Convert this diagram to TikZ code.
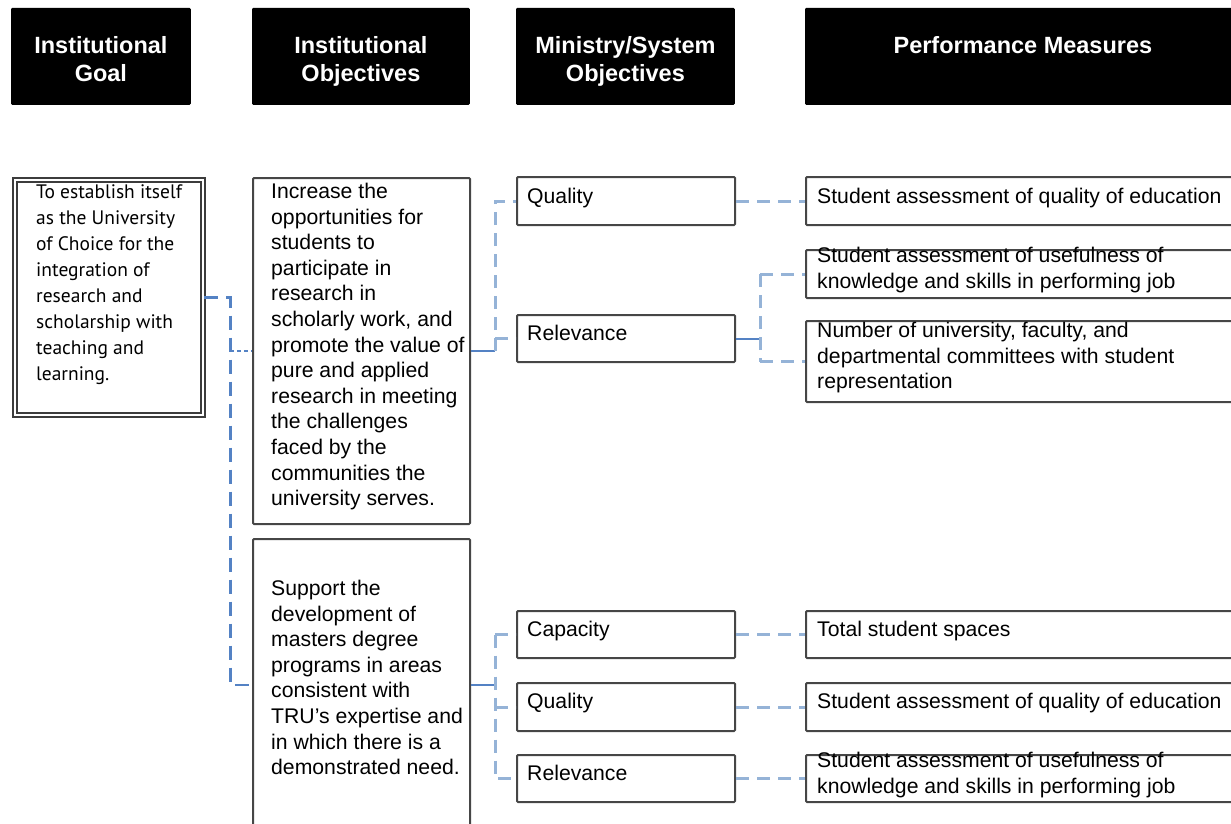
\documentclass[tikz,border=0pt]{standalone}
\usepackage{fontspec}
\setmainfont{Liberation Sans}
\newfontfamily\gillfont{PT Sans}
\usetikzlibrary{calc}
\definecolor{lblue}{RGB}{149,179,215}
\definecolor{dblue}{RGB}{84,130,196}
\definecolor{bord}{RGB}{70,70,70}
\tikzset{
  hdr/.style={fill=black, draw=black, rounded corners=1pt, line width=0.8pt, anchor=north west, inner sep=0},
  hdrtxt/.style={text=white, font=\fontsize{23.5}{28}\selectfont\bfseries, align=center, inner sep=0, anchor=north},
  box/.style={draw=bord, line width=2pt, rounded corners=1pt, anchor=north west, inner sep=0},
  txt/.style={font=\fontsize{21.2}{25.6}\selectfont, align=left, inner sep=0, anchor=north west},
  gtxt/.style={font=\gillfont\fontsize{19.5}{26}\selectfont, align=left, inner sep=0, anchor=north west},
  conn/.style={lblue, line width=3pt, dash pattern=on 13pt off 8pt},
  gconn/.style={dblue, line width=2.8pt, dash pattern=on 14pt off 8pt},
  stub/.style={dblue, line width=2pt},
}
\begin{document}
\begin{tikzpicture}[x=1pt,y=-1pt]
\useasboundingbox (0,0) rectangle (1231,824);
% headers
\node[hdr, minimum width=179pt, minimum height=96pt] (h1) at (11,8) {};
\node[hdr, minimum width=217pt, minimum height=96pt] (h2) at (252,8) {};
\node[hdr, minimum width=218pt, minimum height=96pt] (h3) at (516,8) {};
\node[hdr, minimum width=435pt, minimum height=96pt] (h4) at (805,8) {};
\node[hdrtxt] (h1t) at ($(h1.north)+(0,28)$) {Institutional\\Goal};
\node[hdrtxt] (h2t) at ($(h2.north)+(0,28)$) {Institutional\\Objectives};
\node[hdrtxt] (h3t) at ($(h3.north)+(0,28)$) {Ministry/System\\Objectives};
\node[hdrtxt] (h4t) at ($(h4.north)+(0,28)$) {Performance Measures};
% goal
\node[draw=bord!85!black, double=white, line width=2.2pt, double distance=2.2pt, anchor=north west, inner sep=0,
      minimum width=188pt, minimum height=235pt] (goal) at (14,179) {};
\node[gtxt] (goalt) at (36,184) {To establish itself\\as the University\\of Choice for the\\integration of\\research and\\scholarship with\\teaching and\\learning.};
% objectives
\node[box, minimum width=217pt, minimum height=346pt] (obj1) at (252,177) {};
\node[txt] (obj1t) at (271,183) {Increase the\\opportunities for\\students to\\participate in\\research in\\scholarly work, and\\promote the value of\\pure and applied\\research in meeting\\the challenges\\faced by the\\communities the\\university serves.};
\node[box, minimum width=217pt, minimum height=292pt] (obj2) at (252,538) {};
\node[txt] (obj2t) at (271,580) {Support the\\development of\\masters degree\\programs in areas\\consistent with\\TRU's expertise and\\in which there is a\\demonstrated need.};
% ministry
\node[box, minimum width=218pt, minimum height=48pt] (m1) at (516,176) {};
\node[box, minimum width=218pt, minimum height=47pt] (m2) at (516,314) {};
\node[box, minimum width=218pt, minimum height=47pt] (m3) at (516,610) {};
\node[box, minimum width=218pt, minimum height=48pt] (m4) at (516,682) {};
\node[box, minimum width=218pt, minimum height=47pt] (m5) at (516,754) {};
\node[txt] (m1t) at (527,188) {Quality};
\node[txt] (m2t) at (527,325) {Relevance};
\node[txt] (m3t) at (527,621) {Capacity};
\node[txt] (m4t) at (527,693) {Quality};
\node[txt] (m5t) at (527,765) {Relevance};
% performance measures
\node[box, minimum width=440pt, minimum height=48pt] (p1) at (805,176) {};
\node[box, minimum width=440pt, minimum height=48pt] (p2) at (805,249) {};
\node[box, minimum width=440pt, minimum height=81pt] (p3) at (805,320) {};
\node[box, minimum width=440pt, minimum height=47pt] (p4) at (805,610) {};
\node[box, minimum width=440pt, minimum height=48pt] (p5) at (805,682) {};
\node[box, minimum width=440pt, minimum height=47pt] (p6) at (805,754) {};
\node[txt] (p1t) at (817,188) {Student assessment of quality of education};
\node[txt] (p2t) at (817,247) {Student assessment of usefulness of\\knowledge and skills in performing job};
\node[txt] (p3t) at (817,322) {Number of university, faculty, and\\departmental committees with student\\representation};
\node[txt] (p4t) at (817,621) {Total student spaces};
\node[txt] (p5t) at (817,693) {Student assessment of quality of education};
\node[txt] (p6t) at (817,752) {Student assessment of usefulness of\\knowledge and skills in performing job};
% connectors: goal -> objectives
\coordinate (gj) at ($(goal.east)+(26,0)$);
\draw[gconn] (goal.east) -- (gj) -- (gj |- obj2.west) -- (obj2.west);
\draw[gconn, dash pattern=on 4pt off 3pt, line width=1.6pt] (gj |- obj1.west) -- (obj1.west);
% obj1 -> ministry
\coordinate (oj1) at ($(obj1.east)+(24,0)$);
\draw[stub] (obj1.east) -- (oj1);
\draw[conn] (oj1) -- (oj1 |- m1.west) -- (m1.west);
\draw[conn] (oj1 |- m2.west) -- (m2.west);
% obj2 -> ministry
\coordinate (oj2) at ($(obj2.east)+(24,0)$);
\draw[stub, line width=2.8pt] (obj2.east) -- (oj2);
\draw[conn] (oj2 |- m3.west) -- (m3.west);
\draw[conn] (oj2 |- m3.west) -- (oj2 |- m5.west) -- (m5.west);
\draw[conn] (oj2 |- m4.west) -- (m4.west);
% ministry -> measures
\draw[conn] (m1.east) -- (p1.west);
\coordinate (rj) at ($(m2.east)+(24,0)$);
\draw[stub] (m2.east) -- (rj);
\draw[conn] (rj |- p2.west) -- (rj |- p3.west);
\draw[conn] (rj |- p2.west) -- (p2.west);
\draw[conn] (rj |- p3.west) -- (p3.west);
\draw[conn] (m3.east) -- (p4.west);
\draw[conn] (m4.east) -- (p5.west);
\draw[conn] (m5.east) -- (p6.west);
\end{tikzpicture}
\end{document}
